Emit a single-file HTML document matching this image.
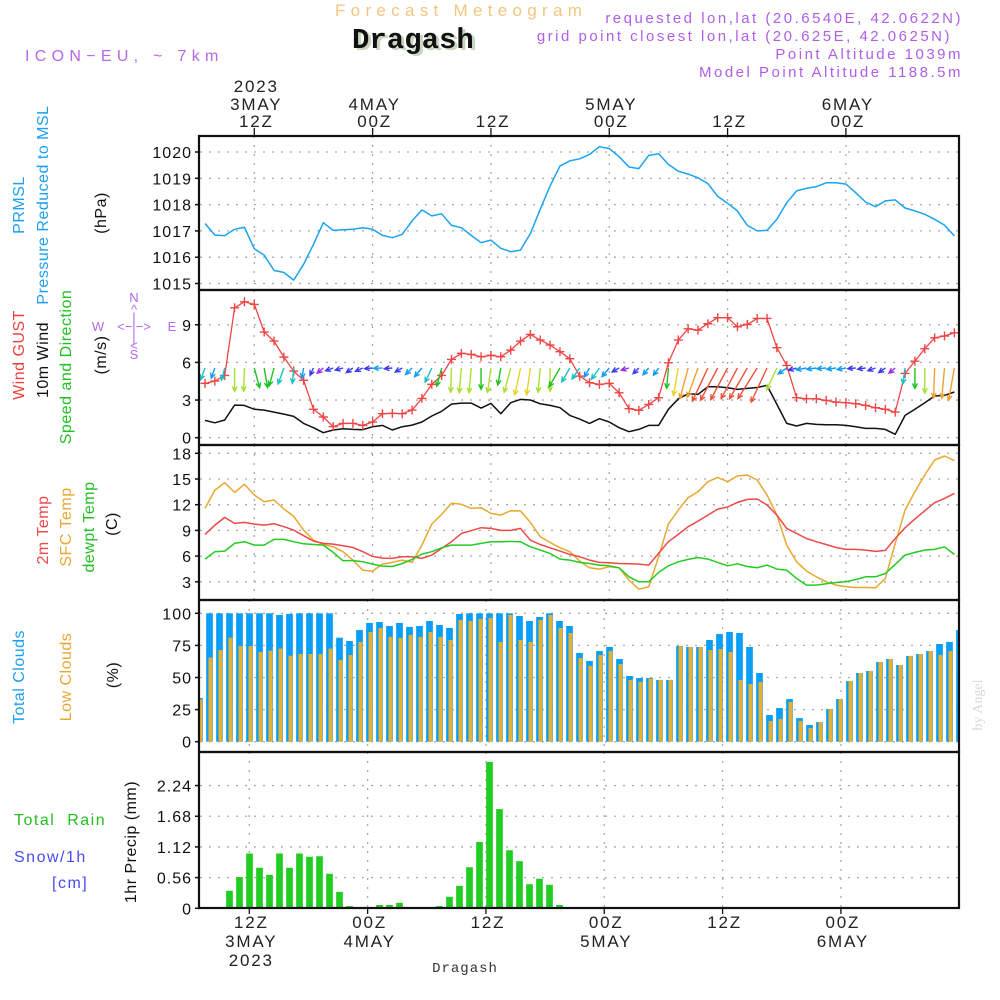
<!DOCTYPE html>
<html><head><meta charset="utf-8">
<style>
html,body{margin:0;padding:0;background:#fff;}
svg{display:block;font-family:"Liberation Sans",sans-serif;}
.tk{font-size:16px;fill:#111;letter-spacing:1px;}
.tl{font-size:17px;fill:#222;letter-spacing:1.8px;}
</style></head>
<body>
<svg id="chart" width="1000" height="1000" viewBox="0 0 1000 1000" xmlns="http://www.w3.org/2000/svg">
<rect x="0" y="0" width="1000" height="1000" fill="#fff"/>
<text x="335" y="16" font-size="17" fill="#f2c67e" letter-spacing="5.3">Forecast Meteogram</text>
<text x="355" y="50" font-family="Liberation Mono, monospace" font-weight="bold" font-size="29" fill="#c8d8c0">Dragash</text>
<text x="352" y="48" font-family="Liberation Mono, monospace" font-weight="bold" font-size="29" fill="#111">Dragash</text>
<text x="25" y="61" font-size="16" fill="#b468ea" letter-spacing="5.3">ICON−EU, ~ 7km</text>
<g font-size="15" fill="#b05ee8" letter-spacing="2.5" text-anchor="end">
<text x="963" y="23">requested lon,lat (20.6540E, 42.0622N)</text>
<text x="952" y="41">grid point closest lon,lat (20.625E, 42.0625N)</text>
<text x="963" y="59">Point Altitude 1039m</text>
<text x="963" y="77">Model Point Altitude 1188.5m</text>
</g>
<g id="grid"></g>
<g id="marks"></g>
<g id="frames"></g>
<g id="labels"></g>
<g font-size="16" letter-spacing="0.5">
<text transform="translate(24,205) rotate(-90)" text-anchor="middle" fill="#1ea0f0">PRMSL</text>
<text transform="translate(48,205) rotate(-90)" text-anchor="middle" fill="#1ea0f0">Pressure Reduced to MSL</text>
<text transform="translate(106,213) rotate(-90)" text-anchor="middle" fill="#111">(hPa)</text>
<text transform="translate(24,355) rotate(-90)" text-anchor="middle" fill="#f04040">Wind GUST</text>
<text transform="translate(48,360) rotate(-90)" text-anchor="middle" fill="#111">10m Wind</text>
<text transform="translate(71,367) rotate(-90)" text-anchor="middle" fill="#22c022">Speed and Direction</text>
<text transform="translate(106,355) rotate(-90)" text-anchor="middle" fill="#111">(m/s)</text>
<text transform="translate(48,530) rotate(-90)" text-anchor="middle" fill="#f04848">2m Temp</text>
<text transform="translate(71,527) rotate(-90)" text-anchor="middle" fill="#e8a830">SFC Temp</text>
<text transform="translate(94,527) rotate(-90)" text-anchor="middle" fill="#22c022">dewpt Temp</text>
<text transform="translate(117,524) rotate(-90)" text-anchor="middle" fill="#111">(C)</text>
<text transform="translate(24,677) rotate(-90)" text-anchor="middle" fill="#1ea0f0">Total Clouds</text>
<text transform="translate(71,677) rotate(-90)" text-anchor="middle" fill="#e8a830">Low Clouds</text>
<text transform="translate(118,675) rotate(-90)" text-anchor="middle" fill="#111">(%)</text>
<text transform="translate(136,842) rotate(-90)" text-anchor="middle" fill="#111">1hr Precip (mm)</text>
<text x="14" y="825" fill="#22c022" letter-spacing="1.5">Total&#160;&#160;Rain</text>
<text x="14" y="862" fill="#4a4af0" letter-spacing="1.5">Snow/1h</text>
<text x="52" y="888" fill="#4a4af0" letter-spacing="1.5">[cm]</text>
</g>
<g font-size="13" fill="#b468ea" text-anchor="middle">
<text x="134" y="302">N</text><text x="134" y="314">^</text><text x="134" y="322">|</text>
<text x="98" y="331">W</text><text x="134" y="331">&lt;−|−&gt;</text><text x="172" y="331">E</text>
<text x="134" y="342">|</text><text x="134" y="350">&lt;</text><text x="134" y="359">S</text>
</g>
<text transform="translate(982,705) rotate(-90)" text-anchor="middle" font-family="Liberation Serif, serif" font-size="14" fill="#d8d8d8">by Angel</text>
<text x="465" y="972" text-anchor="middle" font-family="Liberation Mono, monospace" font-size="14" fill="#333" letter-spacing="1">Dragash</text>
</svg>
<script>
const pressure = [1017.28,1016.84,1016.82,1017.06,1017.14,1016.32,1016.08,1015.5,1015.42,1015.13,1015.73,1016.49,1017.31,1017.02,1017.04,1017.06,1017.12,1017.06,1016.83,1016.74,1016.87,1017.38,1017.8,1017.57,1017.65,1017.21,1017.12,1016.83,1016.55,1016.65,1016.34,1016.21,1016.27,1016.9,1017.82,1018.71,1019.47,1019.66,1019.74,1019.91,1020.2,1020.13,1019.82,1019.43,1019.37,1019.87,1019.93,1019.53,1019.27,1019.16,1019.02,1018.8,1018.31,1018.05,1017.76,1017.21,1017.0,1017.02,1017.44,1018.07,1018.52,1018.62,1018.68,1018.83,1018.83,1018.78,1018.45,1018.1,1017.92,1018.14,1018.18,1017.87,1017.76,1017.63,1017.44,1017.22,1016.81];
const windSpeed = [1.38,1.19,1.41,2.6,2.57,2.26,2.2,2.04,1.88,1.7,1.14,0.8,0.4,0.61,0.72,0.66,0.64,0.88,0.98,0.61,0.88,1.0,1.25,1.73,2.1,2.68,2.76,2.76,2.36,2.73,1.91,2.79,3.05,3.0,2.7,2.57,2.39,1.78,1.48,1.14,1.51,1.25,0.8,0.48,0.66,0.98,0.98,2.26,3.1,3.5,3.45,4.06,4.06,3.98,3.85,3.93,4.0,4.17,2.65,1.14,0.93,1.14,1.06,1.03,1.03,0.98,0.88,0.74,0.74,0.66,0.27,1.78,2.26,2.79,3.32,3.37,3.64];
const windGust = [4.33,4.51,4.96,10.35,10.83,10.62,8.42,7.7,6.42,5.31,4.57,2.26,1.65,0.88,1.14,1.14,0.98,1.25,1.91,1.94,1.91,2.2,3.13,4.25,4.96,6.24,6.72,6.64,6.45,6.56,6.45,6.98,7.7,8.23,7.78,7.38,6.85,6.29,4.91,4.38,4.25,4.33,3.58,2.31,2.18,2.65,3.19,5.97,7.78,8.68,8.57,9.08,9.56,9.56,8.84,9.03,9.5,9.5,7.17,5.76,3.19,3.1,3.1,2.97,2.84,2.79,2.71,2.57,2.39,2.26,2.04,5.12,6.1,7.09,7.96,8.1,8.36];
const windDir = [200,200,195,180,182,165,170,195,200,185,190,205,230,250,255,235,245,265,268,265,240,225,220,205,195,182,185,185,180,188,190,195,192,188,185,180,210,210,215,210,215,220,240,255,225,220,215,185,190,195,200,205,208,208,208,210,212,205,205,235,255,260,262,265,262,260,265,262,250,235,230,188,180,180,182,185,190];
const temp2m = [8.53,9.62,10.52,9.82,9.94,9.74,9.62,9.78,9.43,9.04,8.38,7.75,7.48,7.4,7.21,7.01,6.51,5.96,5.77,5.73,5.92,5.92,5.73,6.12,6.9,7.68,8.65,8.96,9.31,9.23,9.0,9.0,9.23,7.86,7.36,6.97,6.58,6.2,5.92,5.53,5.26,5.22,5.14,5.1,5.07,4.95,6.31,7.68,8.53,9.43,10.09,10.79,11.49,11.73,12.27,12.62,12.66,11.96,10.79,9.23,8.65,8.06,7.68,7.36,7.01,6.78,6.78,6.7,6.55,6.66,8.06,9.31,10.32,11.3,12.23,12.74,13.32];
const tempSfc = [11.57,13.71,14.57,13.44,14.38,13.13,12.35,12.55,11.5,10.64,9.04,7.87,7.36,7.09,6.51,5.53,4.36,4.25,5.07,5.26,5.53,5.26,7.29,9.74,10.87,12.16,12.05,11.57,11.65,10.99,10.79,11.3,11.26,9.94,8.26,7.6,6.97,6.51,5.42,4.64,4.48,4.75,4.64,3.2,2.14,2.42,5.92,9.74,11.38,12.82,13.52,14.69,15.19,14.69,15.35,15.47,14.88,13.13,10.79,7.29,5.34,4.25,3.58,3.0,2.61,2.42,2.34,2.34,2.3,3.39,7.48,11.38,13.52,15.47,17.22,17.69,17.14];
const dewpt = [5.65,6.51,6.58,7.48,7.68,7.29,7.29,7.95,7.95,7.68,7.44,7.36,7.29,6.43,5.45,5.49,5.34,5.07,4.83,4.79,5.14,5.61,6.23,6.51,6.97,7.29,7.29,7.29,7.48,7.68,7.68,7.71,7.68,7.09,6.7,6.31,5.65,5.53,5.26,5.14,4.95,4.87,4.64,3.58,3.0,3.0,4.09,4.87,5.34,5.61,5.84,5.65,5.26,4.87,5.1,4.79,4.64,4.95,4.48,4.36,3.39,2.61,2.61,2.77,2.92,3.0,3.27,3.58,3.58,3.97,5.03,6.12,6.43,6.7,6.78,7.09,6.19];
const totalClouds = [34,100,100,100,100,100,100,100,98.7,99.5,100,100,100,100,81,78.4,87,92.5,93.2,90.1,92.5,89.4,90.1,94,90.9,88.6,99.5,100,100,100,100,100,97.9,94,97.1,100,94,90.1,69.1,62.9,70.6,73.8,64.4,51.2,49.6,49.6,48.1,48.1,74.5,73.8,73.8,79.2,83.9,85.5,84.7,73.8,53.5,20.8,26.2,33.2,18.4,13,15.3,25.5,33.2,47.3,53.5,55.1,62.1,64.4,59.7,66.8,68.3,70.6,76.1,77.7,87];
const lowClouds = [33,65.5,71.4,81,74.5,74.5,69.9,70.9,72.5,67,68.3,68.3,68.3,72.5,63.6,67.5,77.7,85.5,88.6,81.6,80.8,83.1,81.6,85.5,81.6,79.2,94.8,94,95.6,96.4,77.7,98.7,79.2,77.7,94.8,98.7,88.6,84.7,65.2,59,67.5,70.6,60.5,48.1,46.5,49.1,48.1,48.1,74.5,73.8,73.8,71.4,72.2,69.9,48.1,44.9,46.5,16.1,17.7,30.9,16.1,10.6,15.3,25.5,33.2,47.3,53.5,55.1,62.1,64.4,59.7,66.8,68.3,70.6,67.5,70.6,74.5];
const precip = [0,0,0,0.32,0.57,1.00,0.74,0.61,1.00,0.74,1.00,0.94,0.95,0.63,0.30,0.04,0,0,0.06,0.06,0.10,0.02,0,0,0.04,0.21,0.41,0.75,1.21,2.67,1.81,1.06,0.86,0.44,0.54,0.43,0.06,0,0,0,0,0,0,0,0,0,0,0,0,0,0,0,0,0,0,0,0,0,0,0,0,0,0,0,0,0,0,0,0,0,0,0,0,0,0,0,0];
const pTicks = [1015,1016,1017,1018,1019,1020];
const wTicks = [0,3,6,9];
const tTicks = [3,6,9,12,15,18];
const cTicks = [0,25,50,75,100];
const rTicks = ['0','0.56','1.12','1.68','2.24'];
const timeHours = [12,24,36,48,60,72];
const topLab1 = ['3MAY','4MAY','','5MAY','','6MAY'];
const topLab2 = ['12Z','00Z','12Z','00Z','12Z','00Z'];

const NS='http://www.w3.org/2000/svg';
function el(tag,attrs,parent){const e=document.createElementNS(NS,tag);for(const k in attrs)e.setAttribute(k,attrs[k]);parent.appendChild(e);return e;}
const G=document.getElementById('grid'),M=document.getElementById('marks'),F=document.getElementById('frames'),L=document.getElementById('labels');
const XL=200,XR=958;
const xTop=h=>254.3+(h-12)*9.86;
const xBot=h=>249.3+(h-12)*9.86;
const xi=i=>xTop(7+i);
const xb=j=>199.5+j*10;
const yP=p=>152+(1020-p)*26.3;
const yW=v=>437.7-v*12.55;
const yT=t=>453.3+(18-t)*8.567;
const yC=c=>741.7-c*1.284;
const yR=r=>908.3-r*54.8;
const panels=[[136,290],[290,445],[445,600],[600,752],[752,908]];

const defs=el('defs',{},M);
panels.forEach((p,k)=>{const c=el('clipPath',{id:'cp'+k},defs);el('rect',{x:199,y:p[0],width:XR-199,height:p[1]-p[0]},c);});

function hgrid(y){el('line',{x1:XL,x2:XR,y1:y,y2:y,stroke:'#aaa','stroke-width':1.3,'stroke-dasharray':'2 7'},G);}
function vgrid(x,k){el('line',{x1:x,x2:x,y1:panels[k][0],y2:panels[k][1],stroke:'#aaa','stroke-width':1.3,'stroke-dasharray':'2 7'},G);}
function ytick(y,txt){el('line',{x1:195,x2:200,y1:y,y2:y,stroke:'#111','stroke-width':1.5},L);const t=el('text',{x:192,y:y+6,'text-anchor':'end',class:'tk'},L);t.textContent=txt;}

pTicks.forEach(v=>{hgrid(yP(v));ytick(yP(v),String(v));});
wTicks.forEach(v=>{hgrid(yW(v));ytick(yW(v),String(v));});
tTicks.forEach(v=>{hgrid(yT(v));ytick(yT(v),String(v));});
cTicks.forEach(v=>{hgrid(yC(v));ytick(yC(v),String(v));});
rTicks.forEach(v=>{hgrid(yR(+v));ytick(yR(+v),v);});
timeHours.forEach((h,k)=>{
  [0,1,2].forEach(p=>vgrid(xTop(h),p));[3,4].forEach(p=>vgrid(xBot(h),p));
  el('line',{x1:xTop(h),x2:xTop(h),y1:128,y2:136,stroke:'#111','stroke-width':1.3},L);
  el('line',{x1:xBot(h),x2:xBot(h),y1:908,y2:914,stroke:'#111','stroke-width':1.3},L);
  const a=el('text',{x:xTop(h)+2,y:127,'text-anchor':'middle',class:'tl'},L);a.textContent=topLab2[k];
  
  
  if(topLab1[k]){const b=el('text',{x:xTop(h)+2,y:110,'text-anchor':'middle',class:'tl'},L);b.textContent=topLab1[k];
    
    
    const c=el('text',{x:xBot(h)+2,y:947,'text-anchor':'middle',class:'tl'},L);c.textContent=topLab1[k];
    
    }
  const d=el('text',{x:xBot(h)+2,y:928,'text-anchor':'middle',class:'tl'},L);d.textContent=topLab2[k];
  
  
});
{const a=el('text',{x:xTop(12)+2,y:92,'text-anchor':'middle',class:'tl'},L);a.textContent='2023';
 
 
 const b=el('text',{x:xBot(12)+2,y:966,'text-anchor':'middle',class:'tl'},L);b.textContent='2023';
 
 }

function line(arr,yf,color,k,name,w){
  const pts=arr.map((v,i)=>xi(i).toFixed(1)+','+yf(v).toFixed(1)).join(' ');
  const p=el('polyline',{points:pts,fill:'none',stroke:color,'stroke-width':w||1.5,'stroke-linejoin':'round','clip-path':'url(#cp'+k+')'},M);
  
  
}
line(pressure,yP,'#1aa3f0',0,'pressure-line');
line(windSpeed,yW,'#111',1,'wind-speed-line');
line(windGust,yW,'#f04545',1,'wind-gust-line',1.3);
windGust.forEach((v,i)=>{const x=xi(i),y=yW(v);
  const g=el('path',{d:`M${x-4.5},${y}h9M${x},${y-4.5}v9`,stroke:'#f04545','stroke-width':1.4,fill:'none'},M);
  
  
});
function wcol(s){if(s<0.6)return '#9a28e8';if(s<0.95)return '#3a3af0';if(s<1.3)return '#109cf0';if(s<1.9)return '#18c0c8';if(s<2.45)return '#20c020';if(s<2.85)return '#a8e030';if(s<3.25)return '#e8d428';if(s<3.7)return '#eea030';return '#f05038';}
windDir.forEach((d,i)=>{const s=windSpeed[i],Lg=Math.max(8,9*s),r=d*Math.PI/180;
  const x0=xi(i),y0=368,x1=x0+Math.sin(r)*Lg,y1=y0-Math.cos(r)*Lg;
  const a1=r+Math.PI-0.45,a2=r+Math.PI+0.45,h=5.5;
  const c=wcol(s);
  const g=el('path',{d:`M${x0},${y0}L${x1},${y1}M${x1+Math.sin(a1)*h},${y1-Math.cos(a1)*h}L${x1},${y1}L${x1+Math.sin(a2)*h},${y1-Math.cos(a2)*h}`,stroke:c,'stroke-width':1.4,fill:'none','clip-path':'url(#cp1)'},M);
  
  
});
line(tempSfc,yT,'#e8a830',2,'sfc-temp-line');
line(temp2m,yT,'#f04848',2,'2m-temp-line');
line(dewpt,yT,'#22cc22',2,'dewpoint-line');
totalClouds.forEach((v,j)=>{const x=xb(j);
  const b=el('rect',{x:x-3.35,y:yC(v),width:6.7,height:yC(0)-yC(v),fill:'#0a9ef5','clip-path':'url(#cp3)'},M);
  
  
  const o=el('rect',{x:x-1,y:yC(lowClouds[j]),width:3.9,height:yC(0)-yC(lowClouds[j]),fill:'#e8b030','clip-path':'url(#cp3)'},M);
  
  
});
precip.forEach((v,j)=>{if(v<=0)return;const x=xb(j);
  const b=el('rect',{x:x-3.35,y:yR(v),width:6.7,height:yR(0)-yR(v),fill:'#22cc22','clip-path':'url(#cp4)'},M);
  
  
});
el('line',{x1:XL,x2:XR,y1:yR(0)-0.5,y2:yR(0)-0.5,stroke:'#333','stroke-width':1,'stroke-dasharray':'4 2'},M);
panels.forEach((p,k)=>{const r=el('rect',{x:199,y:p[0],width:XR-199+1,height:p[1]-p[0],fill:'none',stroke:'#111','stroke-width':2.2},F);
  
  });
</script>
</body></html>
